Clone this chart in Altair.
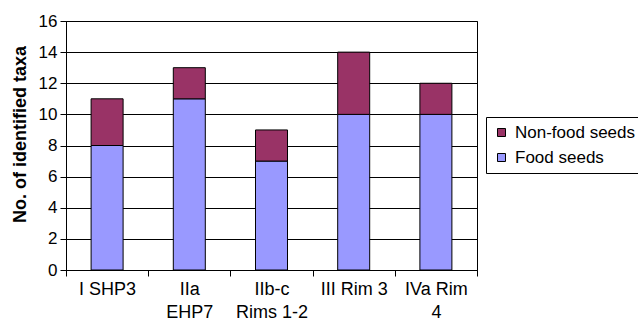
import altair as alt
import pandas as pd

# Site phases (line breaks follow the wrapped axis labels)
phases = ["I SHP3", "IIa\nEHP7", "IIb-c\nRims 1-2", "III Rim 3", "IVa Rim\n4"]
food_seeds = [8, 11, 7, 10, 10]
non_food_seeds = [3, 2, 2, 4, 2]

series_names = ["Non-food seeds", "Food seeds"]
series_colors = ["#993366", "#9999FF"]

rows = []
for phase, f, nf in zip(phases, food_seeds, non_food_seeds):
    rows.append({"phase": phase, "series": "Food seeds", "taxa": f, "rank": 0})
    rows.append({"phase": phase, "series": "Non-food seeds", "taxa": nf, "rank": 1})
df = pd.DataFrame(rows)

FONT = "Liberation Sans"

bars = alt.Chart(df).mark_bar(size=32, stroke="black", strokeWidth=1).encode(
    x=alt.X(
        "phase:N",
        sort=phases,
        title=None,
        scale=alt.Scale(paddingInner=0, paddingOuter=0),
        axis=alt.Axis(
            labelAngle=0,
            labelExpr="split(datum.label, '\\n')",
            labelLineHeight=23,
            labelFontSize=18,
            labelFont=FONT,
            labelColor="black",
            labelPadding=4,
            tickBand="extent",
            tickSize=6,
            tickColor="black",
            domainColor="black",
            grid=False,
        ),
    ),
    y=alt.Y(
        "taxa:Q",
        stack="zero",
        scale=alt.Scale(domain=[0, 16], nice=False),
        axis=alt.Axis(
            title="No. of identified taxa",
            titleFont=FONT,
            titleFontSize=18,
            titleFontWeight="bold",
            titleColor="black",
            titleX=-46,
            titleY=113,
            titleAlign="center",
            titleBaseline="middle",
            titleAngle=270,
            values=list(range(0, 17, 2)),
            labelFontSize=17,
            labelFont=FONT,
            labelColor="black",
            labelPadding=3,
            tickSize=6,
            tickColor="black",
            domainColor="black",
            gridColor="black",
            gridWidth=1,
        ),
    ),
    color=alt.Color(
        "series:N",
        scale=alt.Scale(domain=series_names, range=series_colors),
        legend=alt.Legend(
            title=None,
            orient="none",
            legendX=420,
            legendY=96,
            strokeColor="black",
            padding=7,
            symbolType="square",
            symbolSize=64,
            symbolStrokeColor="black",
            symbolStrokeWidth=1,
            symbolOpacity=1,
            labelFont=FONT,
            labelFontSize=17,
            labelColor="black",
            labelOffset=5,
            rowPadding=7,
        ),
    ),
    order=alt.Order("rank:Q"),
)

chart = bars.properties(
    width=411,
    height=249,
    autosize=alt.AutoSizeParams(type="none"),
    padding={"left": 66, "top": 21, "right": 161, "bottom": 56},
    background="white",
).configure_view(stroke="black", strokeWidth=1)

chart.save("out.html", embed_options={"renderer": "svg", "actions": False})
